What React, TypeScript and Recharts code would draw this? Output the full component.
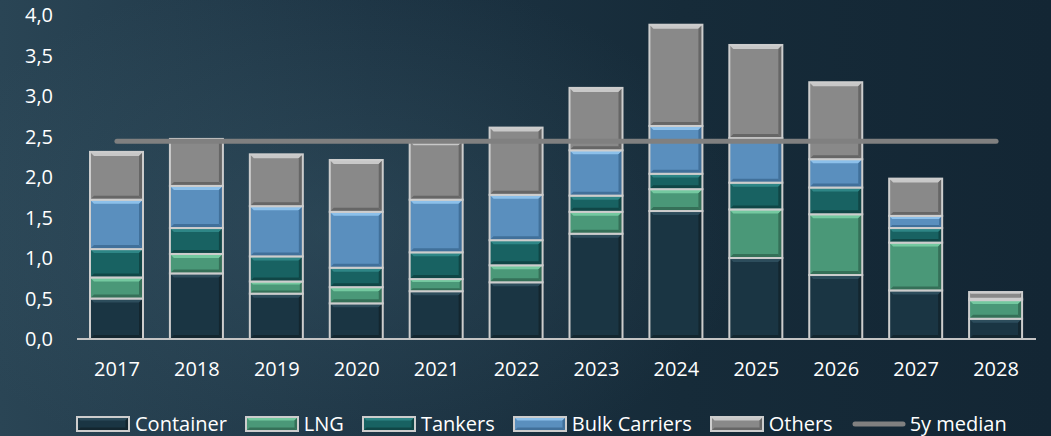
import { Bar, ComposedChart, Legend, Line, XAxis, YAxis } from "recharts";

const years = ["2017", "2018", "2019", "2020", "2021", "2022", "2023", "2024", "2025", "2026", "2027", "2028"];
const container = [0.5, 0.81, 0.56, 0.44, 0.59, 0.7, 1.3, 1.58, 1.0, 0.79, 0.6, 0.25];
const lng = [0.26, 0.24, 0.15, 0.2, 0.15, 0.21, 0.27, 0.27, 0.6, 0.75, 0.59, 0.23];
const tankers = [0.35, 0.32, 0.31, 0.24, 0.33, 0.31, 0.2, 0.19, 0.33, 0.33, 0.18, 0.01];
const bulk = [0.61, 0.52, 0.62, 0.69, 0.65, 0.56, 0.56, 0.59, 0.55, 0.35, 0.15, 0.01];
const others = [0.59, 0.58, 0.64, 0.64, 0.72, 0.83, 0.77, 1.25, 1.15, 0.95, 0.46, 0.08];
const median = 2.44;
const yTicks = [0, 0.5, 1, 1.5, 2, 2.5, 3, 3.5, 4];

const data = years.map((year, i) => ({
  year,
  container: container[i],
  lng: lng[i],
  tankers: tankers[i],
  bulk: bulk[i],
  others: others[i],
  median,
}));

type Tone = { fill: string; light: string; dark: string };

const tones: Record<string, Tone> = {
  container: { fill: "#1a3543", light: "#2d4d5c", dark: "#13262f" },
  lng: { fill: "#4a9878", light: "#74c9a0", dark: "#357058" },
  tankers: { fill: "#186262", light: "#2e8686", dark: "#104646" },
  bulk: { fill: "#5a8fbe", light: "#8cc0ea", dark: "#41709a" },
  others: { fill: "#898989", light: "#c8c8c8", dark: "#666666" },
};

const series = [
  { key: "container", name: "Container" },
  { key: "lng", name: "LNG" },
  { key: "tankers", name: "Tankers" },
  { key: "bulk", name: "Bulk Carriers" },
  { key: "others", name: "Others" },
];

const font = "'Open Sans', sans-serif";

function Bevel({ x, y, w, h, tone }: { x: number; y: number; w: number; h: number; tone: Tone }) {
  const b = Math.min(4, h / 4);
  return (
    <g>
      <rect x={x} y={y} width={w} height={h} fill={tone.fill} />
      {h > 3 && (
        <>
          <polygon points={`${x},${y} ${x + w},${y} ${x + w - b},${y + b} ${x + b},${y + b}`} fill={tone.light} />
          <polygon points={`${x + w},${y} ${x + w},${y + h} ${x + w - b},${y + h - b} ${x + w - b},${y + b}`} fill={tone.dark} />
          <polygon points={`${x},${y + h} ${x + w},${y + h} ${x + w - b},${y + h - b} ${x + b},${y + h - b}`} fill={tone.dark} />
        </>
      )}
      <rect x={x} y={y} width={w} height={h} fill="none" stroke="#cdcdcd" strokeWidth={2} />
    </g>
  );
}

const makeShape = (key: string) => (props: any) => {
  const { x, y, width, height } = props;
  if (!height || height <= 0) return <g />;
  return <Bevel x={x} y={y} w={width} h={height} tone={tones[key]} />;
};

function LegendBox() {
  return (
    <div
      style={{
        height: 37,
        boxSizing: "border-box",
        paddingTop: 12,
        paddingLeft: 76,
        display: "flex",
        alignItems: "center",
        color: "#fff",
        fontSize: 20,
        lineHeight: "22px",
        fontFamily: font,
      }}
    >
      {series.map((s) => (
        <span key={s.key} style={{ display: "flex", alignItems: "center", marginRight: 18 }}>
          <svg width={54} height={16} style={{ marginRight: 5 }}>
            <Bevel x={1} y={1} w={52} h={14} tone={tones[s.key]} />
          </svg>
          {s.name}
        </span>
      ))}
      <span style={{ display: "flex", alignItems: "center" }}>
        <svg width={56} height={16} style={{ marginRight: 3 }}>
          <line x1={4} y1={8} x2={52} y2={8} stroke="#808080" strokeWidth={5} strokeLinecap="round" />
        </svg>
        5y median
      </span>
    </div>
  );
}

export default function App() {
  return (
    <div
      style={{
        position: "absolute",
        left: 0,
        top: 0,
        width: 1051,
        height: 436,
        background:
          "radial-gradient(ellipse 420px 260px at 330px 230px, rgba(70,105,120,0.3), rgba(0,0,0,0)), linear-gradient(90deg, #2a4555 0%, #1d3444 35%, #162b39 65%, #132634 100%)",
      }}
    >
      <ComposedChart width={1051} height={436} data={data} margin={{ top: 15, right: 15, left: 0, bottom: 0 }}>
        <XAxis
          dataKey="year"
          tickLine={false}
          axisLine={{ stroke: "#c4c4c4", strokeWidth: 2 }}
          tick={{ fill: "#ffffff", fontSize: 20, fontFamily: font }}
          tickMargin={17}
          height={60}
        />
        <YAxis
          domain={[0, 4]}
          ticks={yTicks}
          width={77}
          tickLine={false}
          axisLine={false}
          tickMargin={18}
          tickFormatter={(v: number) => v.toFixed(1).replace(".", ",")}
          tick={{ fill: "#ffffff", fontSize: 20, fontFamily: font }}
        />
        {series.map((s) => (
          <Bar key={s.key} dataKey={s.key} name={s.name} stackId="a" barSize={53} shape={makeShape(s.key)} isAnimationActive={false} />
        ))}
        <Line dataKey="median" name="5y median" stroke="#808080" strokeWidth={5} strokeLinecap="round" dot={false} activeDot={false} isAnimationActive={false} />
        <Legend verticalAlign="bottom" content={() => <LegendBox />} />
      </ComposedChart>
    </div>
  );
}
